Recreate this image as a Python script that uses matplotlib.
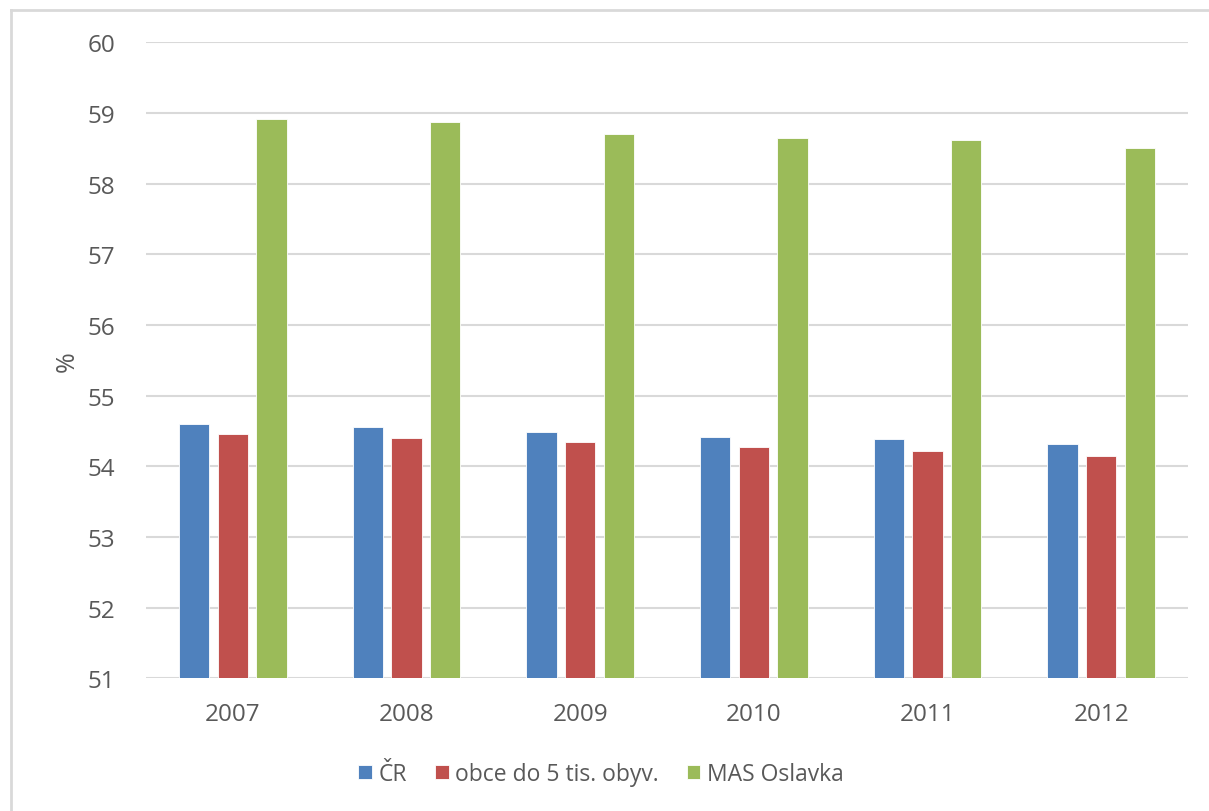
import matplotlib
matplotlib.use("Agg")
import matplotlib.pyplot as plt
from matplotlib.lines import Line2D
import numpy as np

# data
years = ["2007", "2008", "2009", "2010", "2011", "2012"]
cr = [54.60, 54.56, 54.49, 54.42, 54.38, 54.32]
obce = [54.46, 54.40, 54.35, 54.27, 54.22, 54.15]
mas = [58.92, 58.87, 58.70, 58.65, 58.62, 58.51]
series_names = ["ČR", "obce do 5 tis. obyv.", "MAS Oslavka"]
colors = ["#4f81bd", "#c0504d", "#9bbb59"]

plt.rcParams['font.family'] = ['Open Sans', 'DejaVu Sans']
text_col = "#595959"

W, H = 1209, 812
fig = plt.figure(figsize=(W / 100, H / 100), dpi=100)
ax = fig.add_axes([146 / W, 1 - 679.3 / H, (1188 - 146) / W, (679.3 - 43.3) / H])

x = np.arange(len(years))
width = 0.175
step = 0.222
for i, (vals, name, c) in enumerate(zip([cr, obce, mas], series_names, colors)):
    ax.bar(x + (i - 1) * step, np.array(vals) - 51, bottom=51, width=width,
           color=c, edgecolor="white", linewidth=0.6, label=name, zorder=3)

ax.set_xlim(-0.5, len(years) - 0.5)
ax.set_ylim(51, 60)
ax.set_yticks(range(51, 61))
ax.set_xticks(x)
ax.set_xticklabels(years)
ax.grid(axis="y", color="#d9d9d9", linewidth=1.5, zorder=0)
for s in ["top", "right", "left", "bottom"]:
    ax.spines[s].set_visible(False)
ax.tick_params(axis="both", length=0, labelsize=17.5, labelcolor=text_col)
ax.tick_params(axis="y", pad=22)
ax.tick_params(axis="x", pad=17)

fig.text(67 / W, 1 - 362 / H, "%", rotation=90, ha="center", va="center",
         fontsize=18, color=text_col)

leg = fig.legend(loc="center", bbox_to_anchor=(601 / W, 1 - 775 / H), ncol=3,
                 frameon=False, fontsize=16.5, handlelength=0.6, handleheight=0.6,
                 handletextpad=0.3, columnspacing=1.2, labelcolor=text_col)

# chart area border (left and top visible only)
fig.add_artist(Line2D([11 / W, 11 / W], [0, 1 - 11 / H], color="#d9d9d9", linewidth=2))
fig.add_artist(Line2D([11 / W, 1], [1 - 11 / H, 1 - 11 / H], color="#d9d9d9", linewidth=2))

fig.savefig("out.png", dpi=100, facecolor="white")
